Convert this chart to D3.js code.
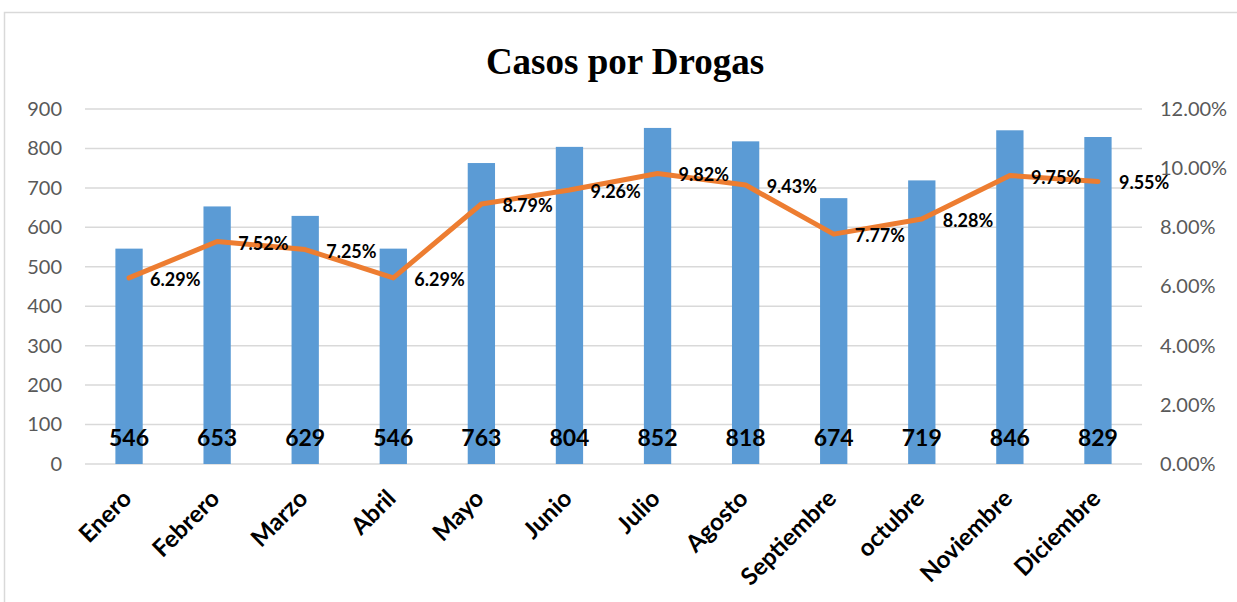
<!DOCTYPE html>
<html>
<head>
<meta charset="utf-8">
<script src="https://cdn.jsdelivr.net/npm/d3@7"></script>
<style>
  body { margin: 0; background: #fff; }
  svg { display: block; }
</style>
</head>
<body>
<svg id="chart" width="1237" height="602"></svg>
<script>
const months = ['Enero', 'Febrero', 'Marzo', 'Abril', 'Mayo', 'Junio', 'Julio', 'Agosto', 'Septiembre', 'octubre', 'Noviembre', 'Diciembre'];
const casos = [546, 653, 629, 546, 763, 804, 852, 818, 674, 719, 846, 829];
const pct = [6.29, 7.52, 7.25, 6.29, 8.79, 9.26, 9.82, 9.43, 7.77, 8.28, 9.75, 9.55];
const leftTicks = [0, 100, 200, 300, 400, 500, 600, 700, 800, 900];
const rightTicks = [0, 2, 4, 6, 8, 10, 12];

const svg = d3.select('#chart');
const width = 1237, height = 602;
const plot = {left: 85, right: 1142, top: 109, bottom: 464};
const font = 'Lato, "Open Sans", sans-serif';

// chart frame
svg.append('rect')
    .attr('x', 4.5).attr('y', 12.5)
    .attr('width', width + 10).attr('height', height)
    .style('fill', 'none')
    .style('stroke', '#d9d9d9')
    .style('stroke-width', 1.5);

// title
svg.append('text')
    .attr('x', 625).attr('y', 74)
    .attr('text-anchor', 'middle')
    .style('font-family', '"Liberation Serif", "Times New Roman", serif')
    .style('font-weight', 'bold')
    .style('font-size', '37px')
    .text('Casos por Drogas');

// scales
const x = d3.scaleBand().domain(months).range([plot.left, plot.right]).paddingInner(0.69).paddingOuter(0.345);
const y = d3.scaleLinear().domain([0, 900]).range([plot.bottom, plot.top]);
const y2 = d3.scaleLinear().domain([0, 12]).range([plot.bottom, plot.top]);
const cx = m => x(m) + x.bandwidth() / 2;

// gridlines
svg.append('g')
    .selectAll('line')
    .data(leftTicks)
    .enter()
    .append('line')
    .attr('x1', plot.left).attr('x2', plot.right)
    .attr('y1', d => y(d)).attr('y2', d => y(d))
    .style('stroke', '#d9d9d9')
    .style('stroke-width', 1.5);

// left axis
const leftAxis = svg.append('g')
    .attr('transform', `translate(${62}, 0)`)
    .call(d3.axisLeft(y).tickValues(leftTicks).tickSize(0).tickPadding(0));
leftAxis.select('.domain').remove();
leftAxis.selectAll('text')
    .style('font-family', font)
    .style('font-size', '20px')
    .style('fill', '#595959');

// right axis
const rightAxis = svg.append('g')
    .attr('transform', `translate(${1160}, 0)`)
    .call(d3.axisRight(y2).tickValues(rightTicks).tickSize(0).tickPadding(0).tickFormat(d => d.toFixed(2) + '%'));
rightAxis.select('.domain').remove();
rightAxis.selectAll('text')
    .style('font-family', font)
    .style('font-size', '20px')
    .style('fill', '#595959');

// bars
const data = months.map((m, i) => ({month: m, casos: casos[i], pct: pct[i]}));

svg.append('g')
    .selectAll('rect')
    .data(data)
    .enter()
    .append('rect')
    .attr('x', d => x(d.month))
    .attr('y', d => y(d.casos))
    .attr('width', x.bandwidth())
    .attr('height', d => y(0) - y(d.casos))
    .style('fill', '#5b9bd5');

// bar value labels near the base
svg.append('g')
    .selectAll('text')
    .data(data)
    .enter()
    .append('text')
    .attr('x', d => cx(d.month))
    .attr('y', 446)
    .attr('text-anchor', 'middle')
    .style('font-family', font)
    .style('font-weight', 'bold')
    .style('font-size', '23px')
    .style('fill', '#000')
    .text(d => d.casos);

// percentage line
const line = d3.line()
    .x(d => cx(d.month))
    .y(d => y2(d.pct));

svg.append('path')
    .datum(data)
    .attr('d', line)
    .style('fill', 'none')
    .style('stroke', '#ed7d31')
    .style('stroke-width', 5)
    .style('stroke-linejoin', 'round')
    .style('stroke-linecap', 'round');

// percentage labels, right of each point
svg.append('g')
    .selectAll('text')
    .data(data)
    .enter()
    .append('text')
    .attr('x', d => cx(d.month) + 21)
    .attr('y', d => y2(d.pct) + 8)
    .style('font-family', font)
    .style('font-weight', 'bold')
    .style('font-size', '18px')
    .style('fill', '#000')
    .text(d => d.pct.toFixed(2) + '%');

// x axis labels, rotated
svg.append('g')
    .selectAll('text')
    .data(months)
    .enter()
    .append('text')
    .attr('transform', d => `translate(${cx(d) + 4}, ${500}) rotate(-45)`)
    .attr('text-anchor', 'end')
    .style('font-family', font)
    .style('font-weight', 'bold')
    .style('font-size', '24px')
    .style('fill', '#000')
    .text(d => d);
</script>
</body>
</html>
